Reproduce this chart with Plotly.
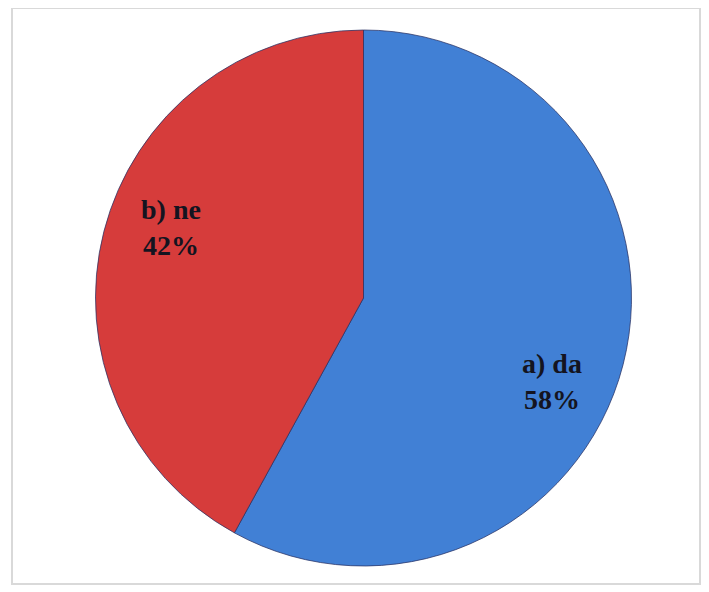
import plotly.graph_objects as go

categories = ["a) da", "b) ne"]
values = [58, 42]
colors = ["#4180D5", "#D63C3B"]

# page body has an 8px margin; work in reference pixel coords shifted by OFF
OFF = 8
W, H = 709 - OFF, 592 - OFF


def px(x):
    return (x - OFF) / W


def py(y):
    return 1 - (y - OFF) / H


fig = go.Figure()
fig.add_trace(go.Pie(
    labels=categories,
    values=values,
    sort=False,
    direction="clockwise",
    rotation=0,
    marker=dict(colors=colors, line=dict(color="rgba(40,50,100,0.75)", width=1)),
    textinfo="none",
    hoverinfo="label+percent",
    showlegend=False,
    domain=dict(x=[px(95), px(632)], y=[py(566), py(30)]),
))

label_pos = [(552, 381), (171, 228)]
total = sum(values)
for cat, val, (lx, ly) in zip(categories, values, label_pos):
    fig.add_annotation(
        x=px(lx), y=py(ly), xref="paper", yref="paper",
        xanchor="center", yanchor="middle",
        text=f"<b>{cat}<br>{round(100 * val / total)}%</b>",
        showarrow=False,
        font=dict(family="Liberation Serif", size=28, color="#141420"),
        align="center",
    )

fig.add_shape(type="rect", xref="paper", yref="paper",
              x0=px(12), x1=px(700), y0=py(584), y1=py(8),
              line=dict(color="#d9d9d9", width=2))

fig.update_layout(
    width=W, height=H,
    margin=dict(l=0, r=0, t=0, b=0),
    paper_bgcolor="white",
    plot_bgcolor="white",
)
fig.write_html("out.html")
